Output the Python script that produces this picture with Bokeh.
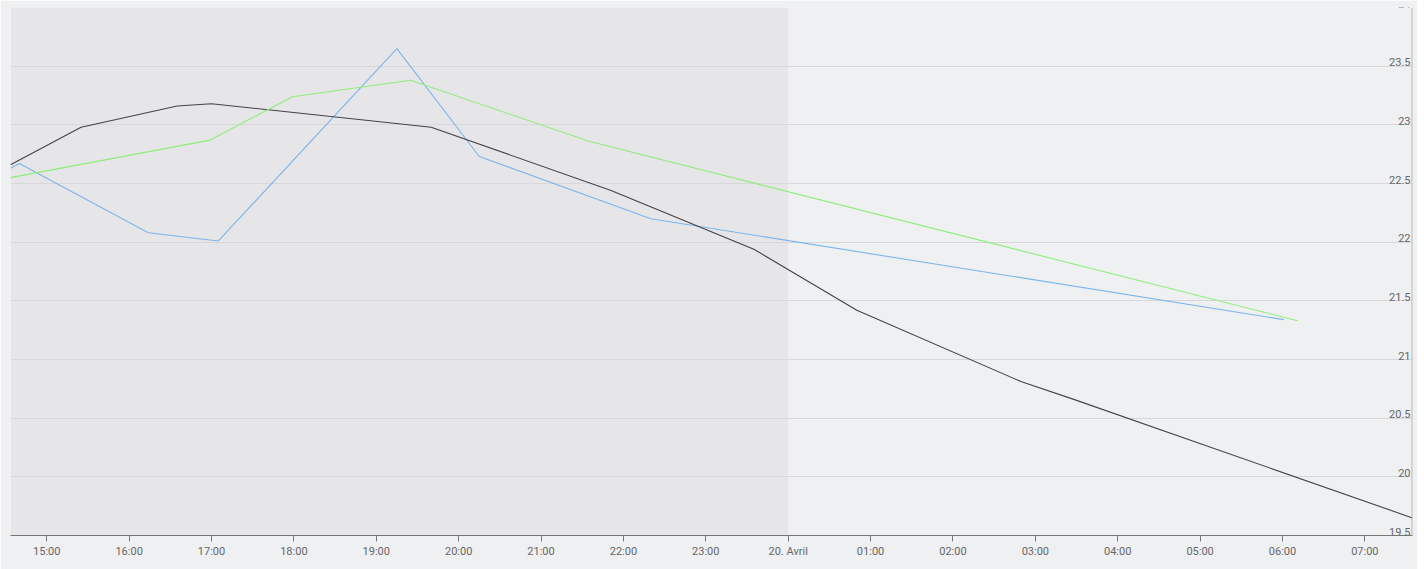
import pandas as pd
from bokeh.plotting import figure
from bokeh.models import Range1d, FixedTicker, Grid, BoxAnnotation, Span, Label
from bokeh.embed import file_html
from bokeh.resources import INLINE

# ---- data ----
black_times = ["2024-04-19 14:33:36", "2024-04-19 15:25", "2024-04-19 16:35", "2024-04-19 17:00",
               "2024-04-19 19:40", "2024-04-19 21:51", "2024-04-19 23:35", "2024-04-20 00:50",
               "2024-04-20 02:50", "2024-04-20 03:28", "2024-04-20 07:34:42"]
black_values = [22.66, 22.98, 23.16, 23.18, 22.98, 22.44, 21.94, 21.42, 20.81, 20.66, 19.65]

blue_times = ["2024-04-19 14:33:36", "2024-04-19 14:40", "2024-04-19 16:14", "2024-04-19 17:05",
              "2024-04-19 19:15", "2024-04-19 20:15", "2024-04-19 22:20", "2024-04-20 06:01"]
blue_values = [22.63, 22.67, 22.08, 22.01, 23.65, 22.73, 22.20, 21.34]

green_times = ["2024-04-19 14:33:36", "2024-04-19 16:59", "2024-04-19 17:59", "2024-04-19 19:25",
               "2024-04-19 21:35", "2024-04-20 06:11"]
green_values = [22.55, 22.87, 23.24, 23.38, 22.86, 21.33]

x_tick_times = ["2024-04-19 15:00", "2024-04-19 16:00", "2024-04-19 17:00", "2024-04-19 18:00",
                "2024-04-19 19:00", "2024-04-19 20:00", "2024-04-19 21:00", "2024-04-19 22:00",
                "2024-04-19 23:00", "2024-04-20 00:00", "2024-04-20 01:00", "2024-04-20 02:00",
                "2024-04-20 03:00", "2024-04-20 04:00", "2024-04-20 05:00", "2024-04-20 06:00",
                "2024-04-20 07:00"]
x_tick_labels = ["15:00", "16:00", "17:00", "18:00", "19:00", "20:00", "21:00", "22:00", "23:00",
                 "20. Avril", "01:00", "02:00", "03:00", "04:00", "05:00", "06:00", "07:00"]

y_ticks = [19.5, 20, 20.5, 21, 21.5, 22, 22.5, 23, 23.5, 24]
y_tick_labels = ["19.5", "20", "20.5", "21", "21.5", "22", "22.5", "23", "23.5", "24"]

band_end = "2024-04-20 00:00"


def ms(s):
    return pd.Timestamp(s).timestamp() * 1000.0


x_start = ms(black_times[0])
x_end = ms(black_times[-1])

p = figure(width=1417, height=569, x_axis_type="datetime", y_axis_location=None,
           output_backend="svg", toolbar_location=None,
           x_range=Range1d(start=x_start, end=x_end), y_range=Range1d(start=y_ticks[0], end=y_ticks[-1]),
           min_border_left=10, min_border_right=5, min_border_top=7, min_border_bottom=34,
           background_fill_color="#eff0f2", border_fill_color="#eff0f2", outline_line_color=None)

# plot band (before midnight)
p.add_layout(BoxAnnotation(right=ms(band_end), fill_color="#e6e6e8", fill_alpha=1,
                           line_color=None, level="image"))

for g in p.xgrid:
    g.visible = False
for g in p.ygrid:
    g.visible = False
p.add_layout(Grid(dimension=1, ticker=FixedTicker(ticks=y_ticks), grid_line_color="#d8d8da",
                  grid_line_width=1))

# series
p.line(x=[ms(t) for t in blue_times], y=blue_values, line_color="#7cb5ec", line_width=1.1)
p.line(x=[ms(t) for t in black_times], y=black_values, line_color="#434348", line_width=1.1)
p.line(x=[ms(t) for t in green_times], y=green_values, line_color="#90ed7d", line_width=1.1)

# x axis
tick_ms = [int(ms(t)) for t in x_tick_times]
xa = p.xaxis[0]
xa.ticker = FixedTicker(ticks=tick_ms)
xa.major_label_overrides = {t: lab for t, lab in zip(tick_ms, x_tick_labels)}
xa.axis_line_color = "#777777"
xa.major_tick_line_color = "#777777"
xa.major_tick_out = 6
xa.major_tick_in = 0
xa.minor_tick_line_color = None
xa.major_label_text_font = "Roboto"
xa.major_label_text_font_size = "11px"
xa.major_label_text_color = "#666666"
xa.major_label_standoff = 3

# right-side y axis line
p.add_layout(Span(location=x_end, dimension="height", line_color="#b5b5b5", line_width=2))

# y labels drawn inside the plot, above each grid line
for v, lab in zip(y_ticks, y_tick_labels):
    p.add_layout(Label(x=x_end, y=v, text=lab, text_align="right", text_baseline="bottom",
                       x_offset=-2, y_offset=0, text_font="Roboto", text_font_size="11px",
                       text_color="#666666"))

html = file_html(p, INLINE)
html = html.replace("<body>", '<body style="background-color:#e6e7e9;">', 1)
open("out.html", "w").write(html)
